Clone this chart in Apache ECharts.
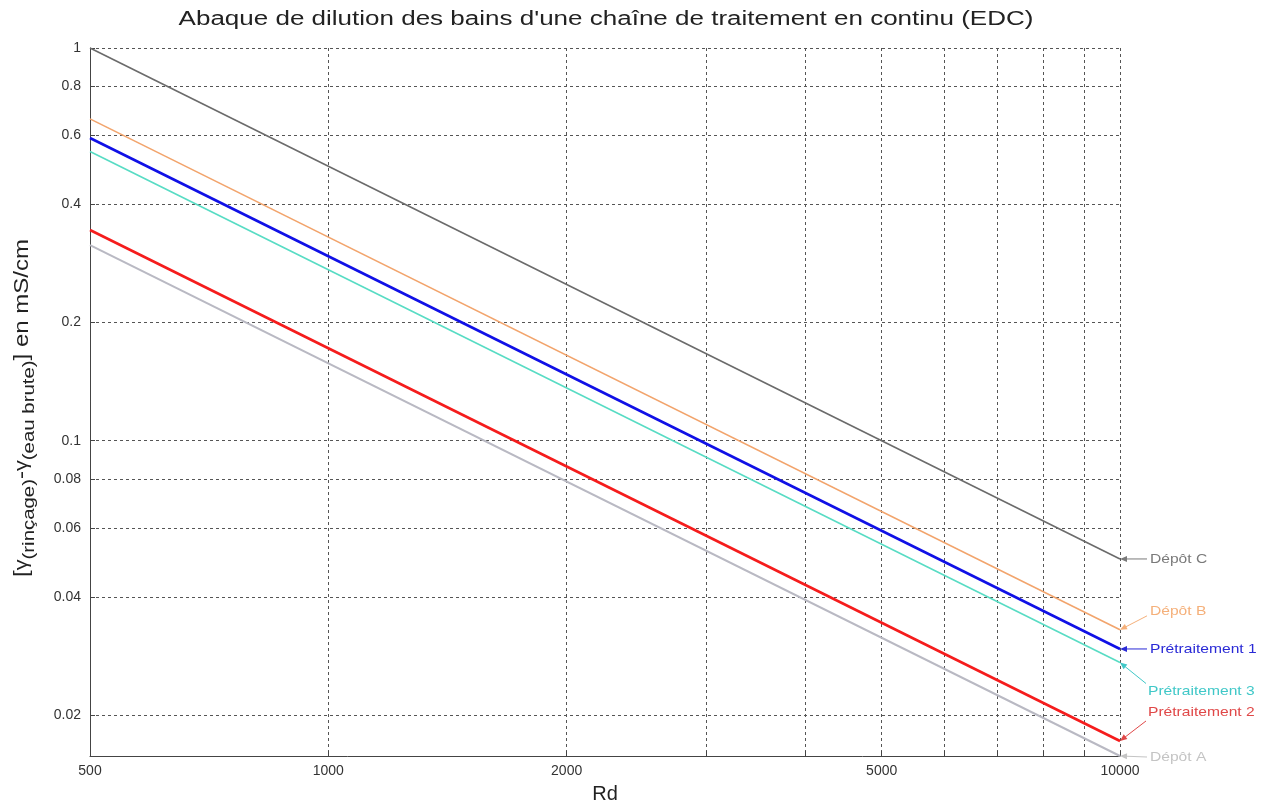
<!DOCTYPE html>
<html><head><meta charset="utf-8">
<script src="https://cdn.jsdelivr.net/npm/echarts@6/dist/echarts.min.js"></script>
<style>html,body{margin:0;padding:0;background:#fff}#c{width:1268px;height:808px}</style>
</head><body><div id="c"></div>
<script>
// ---- data ----
const rdValues = [500, 10000];
const seriesNames = ['Dépôt C', 'Dépôt B', 'Prétraitement 1', 'Prétraitement 3', 'Prétraitement 2', 'Dépôt A'];
const depotC = [1.0, 0.05];
const depotB = [0.66, 0.033];
const pretraitement1 = [0.59, 0.0295];
const pretraitement3 = [0.545, 0.02725];
const pretraitement2 = [0.344, 0.0172];
const depotA = [0.315, 0.01575];
const xTicks = [1000, 2000, 3000, 4000, 5000, 6000, 7000, 8000, 9000, 10000];
const xTickLabels = [500, 1000, 2000, 5000, 10000];
const yTicks = [0.02, 0.04, 0.06, 0.08, 0.1, 0.2, 0.4, 0.6, 0.8, 1];
const titleText = "Abaque de dilution des bains d'une chaîne de traitement en continu (EDC)";
const xName = 'Rd';

// ---- styles ----
const seriesValues = [depotC, depotB, pretraitement1, pretraitement3, pretraitement2, depotA];
const lineColors = ['#6b6b6b', '#f2a46c', '#1010e6', '#58dcc4', '#f51c1c', '#b9b9c3'];
const lineWidths = [1.6, 1.6, 2.6, 1.6, 2.6, 2];
const labelColors = ['#7a7a7a', '#f5b07a', '#2a2ad6', '#40c8c8', '#e04848', '#c4c4c4'];
// annotation layout offsets (pixels relative to end point): tail dx,dy ; text dx,dy
const annot = [
  {tx: 27, ty: 0, lx: 30, ly: 0},
  {tx: 27, ty: -14, lx: 30, ly: -18},
  {tx: 27, ty: 0, lx: 30, ly: 0},
  {tx: 26, ty: 21, lx: 28, ly: 29},
  {tx: 26, ty: -20, lx: 28, ly: -29},
  {tx: 27, ty: 1, lx: 30, ly: 1}
];
const FONT = '"Liberation Sans", Arial, sans-serif';

const chart = echarts.init(document.getElementById('c'), null, {renderer: 'canvas'});

const series = seriesNames.map((n, i) => ({
  name: n,
  type: 'line',
  symbol: 'none',
  data: rdValues.map((x, j) => [x, seriesValues[i][j]]),
  lineStyle: {color: lineColors[i], width: lineWidths[i]},
  itemStyle: {color: lineColors[i]},
  z: 3 + (seriesNames.length - i),
  animation: false
}));

chart.setOption({
  animation: false,
  backgroundColor: '#fff',
  grid: {left: 90, right: 148, top: 48, bottom: 52, containLabel: false, outerBoundsMode: 'none'},
  xAxis: {
    type: 'log', logBase: 10, min: 500, max: 10000,
    name: xName, nameLocation: 'middle', nameGap: 28,
    nameTextStyle: {fontFamily: FONT, fontSize: 20, color: '#222'},
    axisLine: {show: true, onZero: false, lineStyle: {color: '#444', width: 1}},
    axisTick: {show: true, inside: true, length: 5, customValues: xTicks, lineStyle: {color: '#444'}},
    axisLabel: {customValues: xTickLabels, fontFamily: FONT, fontSize: 14, color: '#333', margin: 8,
      formatter: v => String(Math.round(v))},
    splitLine: {show: true, lineStyle: {color: '#555', width: 1, type: [3, 3]}},
    minorTick: {show: false}, minorSplitLine: {show: false}
  },
  yAxis: {
    type: 'log', logBase: 10, min: 0.01575, max: 1,
    axisLine: {show: true, onZero: false, lineStyle: {color: '#444', width: 1}},
    axisTick: {show: true, inside: true, length: 5, customValues: yTicks, lineStyle: {color: '#444'}},
    axisLabel: {customValues: yTicks, fontFamily: FONT, fontSize: 14, color: '#333', margin: 9,
      formatter: v => String(+Number(v).toPrecision(4))},
    splitLine: {show: true, lineStyle: {color: '#555', width: 1, type: [3, 3]}},
    minorTick: {show: false}, minorSplitLine: {show: false}
  },
  series: series
});

// ---- annotations, title, y name ----
const graphics = [];
graphics.push({
  type: 'text', x: 606, y: 19, scaleX: 1.3,
  style: {text: titleText, font: '20px ' + FONT, fill: '#222', align: 'center', verticalAlign: 'middle'}
});
graphics.push({
  type: 'text', x: 22, y: 408, rotation: Math.PI / 2, scaleX: 1.2,
  style: {
    text: '{b|[}{g|γ}{s|(rinçage)}{b|-}{g|γ}{s|(eau brute)}{b|] en mS/cm}',
    align: 'center', verticalAlign: 'middle',
    rich: {
      b: {font: '20px ' + FONT, fill: '#222', lineHeight: 32, verticalAlign: 'middle'},
      g: {font: '18px ' + FONT, fill: '#222', lineHeight: 32, verticalAlign: 'middle'},
      s: {font: '17px ' + FONT, fill: '#222', lineHeight: 32, verticalAlign: 'bottom'}
    }
  }
});
seriesNames.forEach((n, i) => {
  const v = seriesValues[i][seriesValues[i].length - 1];
  const p = chart.convertToPixel({xAxisIndex: 0, yAxisIndex: 0}, [rdValues[rdValues.length - 1], v]);
  const a = annot[i];
  const tail = [p[0] + a.tx, p[1] + a.ty];
  const dx = p[0] - tail[0], dy = p[1] - tail[1];
  const len = Math.sqrt(dx * dx + dy * dy);
  const ux = dx / len, uy = dy / len, nx = -uy, ny = ux;
  const hl = 7, hw = 3;
  graphics.push({
    type: 'line', z: 20,
    shape: {x1: tail[0], y1: tail[1], x2: p[0] - ux * 2, y2: p[1] - uy * 2},
    style: {stroke: labelColors[i], lineWidth: 1}
  });
  graphics.push({
    type: 'polygon', z: 20,
    shape: {points: [[p[0], p[1]], [p[0] - ux * hl + nx * hw, p[1] - uy * hl + ny * hw], [p[0] - ux * hl - nx * hw, p[1] - uy * hl - ny * hw]]},
    style: {fill: labelColors[i]}
  });
  graphics.push({
    type: 'text', z: 20, x: p[0] + a.lx, y: p[1] + a.ly, scaleX: 1.2,
    style: {text: n, font: '13px ' + FONT, fill: labelColors[i], align: 'left', verticalAlign: 'middle'}
  });
});
chart.setOption({graphic: graphics});
</script>
</body></html>
